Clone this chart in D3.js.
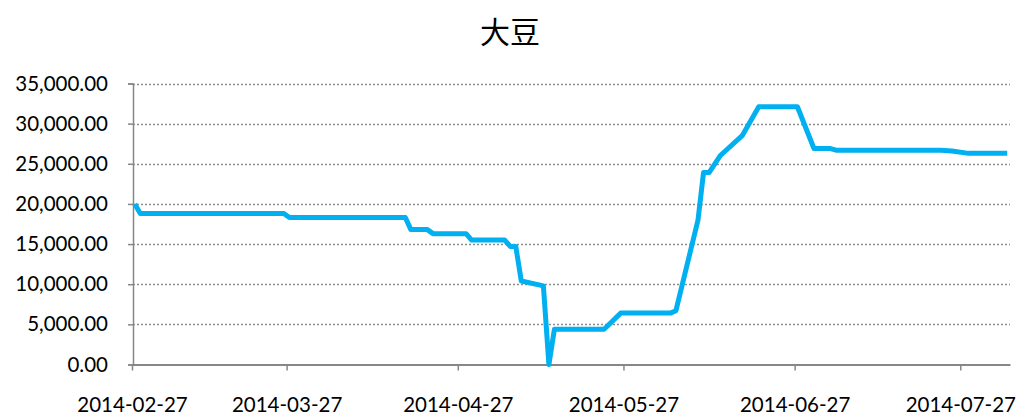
<!DOCTYPE html>
<html><head><meta charset="utf-8">
<script src="https://cdn.jsdelivr.net/npm/d3@7"></script>
<style>body{margin:0;background:#fff;} svg{display:block;}</style>
</head><body>
<svg id="c" width="1022" height="415"></svg>
<script>
const title = "大豆";
const dates = ["2014-02-27","2014-02-28","2014-03-26","2014-03-27","2014-04-17","2014-04-18","2014-04-21","2014-04-22","2014-04-28","2014-04-29","2014-05-05","2014-05-06","2014-05-07","2014-05-08","2014-05-12","2014-05-13","2014-05-14","2014-05-23","2014-05-26","2014-06-04","2014-06-05","2014-06-09","2014-06-10","2014-06-11","2014-06-13","2014-06-17","2014-06-20","2014-06-27","2014-06-30","2014-07-03","2014-07-04","2014-07-23","2014-07-25","2014-07-28","2014-08-04"];
const values = [20000,18800,18800,18300,18300,16800,16800,16300,16300,15500,15500,14700,14700,10400,9800,0,4400,4400,6400,6400,6700,18000,23900,23900,26000,28500,32100,32100,26900,26900,26700,26700,26600,26300,26300];
const xTickLabels = ["2014-02-27","2014-03-27","2014-04-27","2014-05-27","2014-06-27","2014-07-27"];
const yTicks = [0,5000,10000,15000,20000,25000,30000,35000];

const parse = d3.utcParse("%Y-%m-%d");
const svg = d3.select("#c");
const mLeft = 133, mRight = 1010, mTop = 83.5, mBottom = 364.5;
const x = d3.scaleUtc().domain([parse("2014-02-27"), parse("2014-08-05")]).range([mLeft-1, mRight]);
const y = d3.scaleLinear().domain([0,35000]).range([mBottom, mTop]);
const fmt = d3.format(",.2f");

svg.append("text").attr("x",510).attr("y",43).attr("text-anchor","middle")
  .attr("font-family","'Noto Sans CJK SC', sans-serif").attr("font-size",30).attr("fill","#000").text(title);

// gridlines
svg.append("g").selectAll("line").data(yTicks.filter(v=>v>0)).join("line")
  .attr("x1",mLeft).attr("x2",mRight).attr("y1",d=>Math.round(y(d))+0.5).attr("y2",d=>Math.round(y(d))+0.5)
  .attr("stroke","#8c8c8c").attr("stroke-width",1.5).attr("stroke-dasharray","2,2");

// y axis
const ya = svg.append("g").attr("transform",`translate(${mLeft},0)`)
  .call(d3.axisLeft(y).tickValues(yTicks).tickSize(5).tickFormat(fmt).tickPadding(20));
ya.select(".domain").attr("stroke","#878787").attr("stroke-width",1.5);
ya.selectAll(".tick line").attr("stroke","#878787").attr("stroke-width",1.5);
ya.selectAll("text").attr("font-family","Lato, sans-serif").attr("font-size",20.5).attr("fill","#000");

// x axis
const xa = svg.append("g").attr("transform",`translate(0,${mBottom})`)
  .call(d3.axisBottom(x).tickValues(xTickLabels.map(parse)).tickSize(6).tickFormat(d3.utcFormat("%Y-%m-%d")).tickPadding(27).tickSizeOuter(0));
xa.select(".domain").attr("stroke","#878787").attr("stroke-width",2);
xa.selectAll(".tick line").attr("stroke","#878787").attr("stroke-width",1.5);
xa.selectAll("text").attr("font-family","Lato, sans-serif").attr("font-size",20.5).attr("fill","#000");

// line (points at middle of each day slot)
const pts = dates.map((d,i)=>({t:new Date(parse(d).getTime()+12*3600*1000), v:values[i]}));
svg.append("path").datum(pts)
  .attr("d", d3.line().x(d=>x(d.t)).y(d=>y(d.v)))
  .attr("fill","none").attr("stroke","#00b0f0").attr("stroke-width",5).attr("stroke-linejoin","round");
</script>
</body></html>
